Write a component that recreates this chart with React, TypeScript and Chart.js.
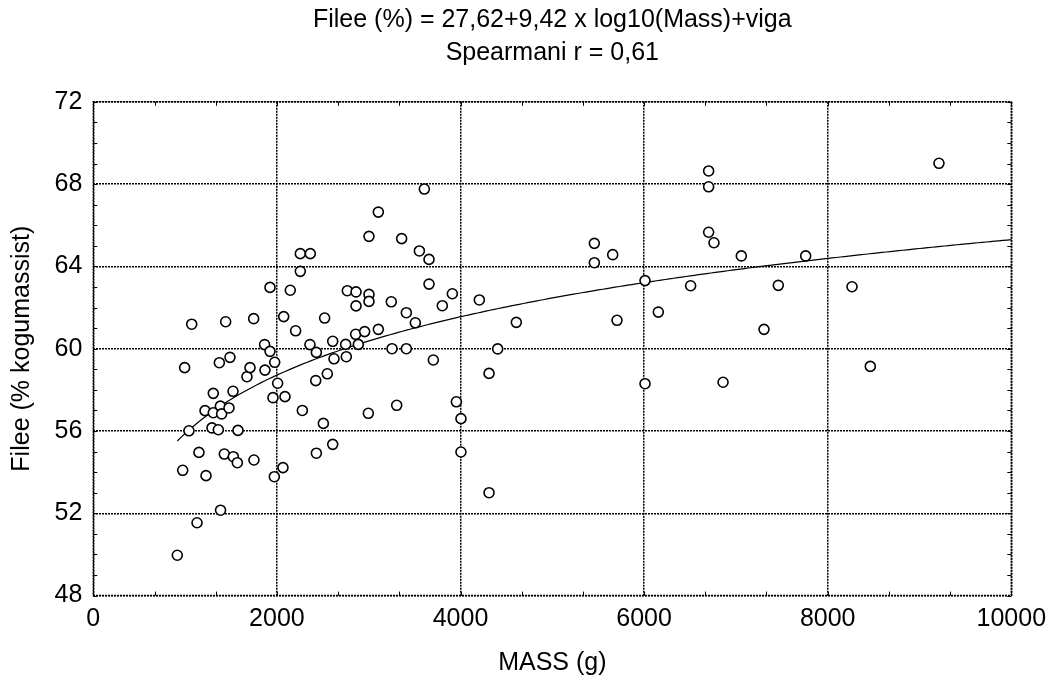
import React, { useEffect, useRef } from "react";
import { Chart, registerables } from "chart.js";

Chart.register(...registerables);

const massG: number[] = [
  915, 974, 995, 1042, 1072, 1130, 1151, 1217, 1228, 1293, 1307, 1307, 1362, 1373, 1384, 1386, 1398, 1427, 1442, 1478,
  1489, 1522, 1525, 1569, 1576, 1674, 1707, 1747, 1750, 1866, 1870, 1925, 1925, 1957, 1972, 1976, 2008, 2066, 2074, 2088,
  2146, 2204, 2255, 2255, 2277, 2360, 2364, 2423, 2430, 2430, 2506, 2520, 2549, 2608, 2608, 2622, 2749, 2756, 2767, 2858,
  2862, 2862, 2887, 2956, 2996, 3003, 3003, 3003, 3105, 3105, 3246, 3254, 3305, 3359, 3410, 3410, 3508, 3552, 3606, 3657,
  3657, 3704, 3802, 3911, 3955, 4005, 4005, 4205, 4311, 4311, 4405, 4608, 5458, 5458, 5658, 5705, 6010, 6010, 6155, 6507,
  6703, 6703, 6703, 6761, 6860, 7059, 7306, 7462, 7760, 8265, 8464, 9212,
];
const fileePct: number[] = [
  49.96, 54.09, 59.08, 56.01, 61.19, 51.54, 54.96, 56.99, 53.83, 56.15, 57.83, 56.89, 56.06, 59.32, 57.21, 52.15, 56.83, 54.88, 61.31, 57.12,
  59.58, 57.93, 54.75, 54.46, 56.03, 58.64, 59.08, 61.46, 54.59, 60.2, 58.96, 62.98, 59.87, 57.62, 53.78, 59.34, 58.32, 54.22, 61.56, 57.67,
  62.84, 60.87, 64.62, 63.76, 57.0, 60.2, 64.62, 58.45, 59.82, 54.92, 56.37, 61.49, 58.78, 60.36, 55.35, 59.51, 60.21, 59.61, 62.82, 60.7,
  62.76, 62.08, 60.21, 60.83, 56.86, 65.46, 62.64, 62.3, 66.64, 60.94, 62.28, 60.0, 57.25, 65.35, 61.75, 60.0, 61.26, 64.75, 67.76, 64.34,
  63.14, 59.45, 62.09, 62.67, 57.42, 56.6, 54.98, 62.37, 58.8, 53.0, 59.99, 61.28, 65.12, 64.18, 64.57, 61.38, 63.31, 58.3, 61.78, 63.06,
  68.64, 67.87, 65.66, 65.15, 58.37, 64.51, 60.94, 63.08, 64.51, 63.01, 59.14, 69.01,
];

// Fit from the title: Filee = 27.62 + 9.42 * log10(Mass)
const fitIntercept = 27.62;
const fitSlope = 9.42;
const fitStartMass = 915;
const fitEndMass = 10000;

const xTicks: number[] = [0, 2000, 4000, 6000, 8000, 10000];
const yTicks: number[] = [48, 52, 56, 60, 64, 68, 72];

const titleLines: string[] = [
  "Filee (%) = 27,62+9,42 x log10(Mass)+viga",
  "Spearmani r = 0,61",
];
const xTitle = "MASS (g)";
const yTitle = "Filee (% kogumassist)";

const FONT = "'Liberation Sans', Arial, sans-serif";
const FS = 25;

const boxPlugin = {
  id: "boxMinor",
  afterDraw(chart: any) {
    const { ctx, chartArea } = chart;
    const { left, right, top, bottom } = chartArea;
    const xs = chart.scales.x;
    const ys = chart.scales.y;
    ctx.save();
    ctx.strokeStyle = "#000";
    ctx.lineWidth = 1.5;
    ctx.setLineDash([2, 1]);
    ctx.strokeRect(left, top, right - left, bottom - top);
    ctx.setLineDash([]);
    ctx.lineWidth = 1;
    const len = 4;
    ctx.beginPath();
    for (let i = 0; i <= 15; i++) {
      const v = (i * 2000) / 3;
      const px = Math.round(xs.getPixelForValue(v)) + 0.5;
      ctx.moveTo(px, bottom);
      ctx.lineTo(px, bottom - len);
      ctx.moveTo(px, top);
      ctx.lineTo(px, top + len);
    }
    for (let v = 48; v <= 72; v++) {
      const py = Math.round(ys.getPixelForValue(v)) + 0.5;
      ctx.moveTo(left, py);
      ctx.lineTo(left + len, py);
      ctx.moveTo(right, py);
      ctx.lineTo(right - len, py);
    }
    ctx.stroke();
    ctx.restore();
  },
};

export default function App() {
  const ref = useRef<HTMLCanvasElement | null>(null);

  useEffect(() => {
    if (!ref.current) return;
    const points = massG.map((m, i) => ({ x: m, y: fileePct[i] }));
    const fit: { x: number; y: number }[] = [];
    const steps = 200;
    for (let i = 0; i <= steps; i++) {
      const m = fitStartMass + ((fitEndMass - fitStartMass) * i) / steps;
      fit.push({ x: m, y: fitIntercept + fitSlope * Math.log10(m) });
    }
    const chart = new Chart(ref.current, {
      type: "scatter",
      data: {
        datasets: [
          {
            type: "line",
            label: "fit",
            data: fit,
            borderColor: "#000",
            borderWidth: 1.2,
            pointRadius: 0,
            fill: false,
            tension: 0,
            order: 2,
          } as any,
          {
            label: "data",
            data: points,
            pointRadius: 5,
            pointBorderWidth: 1.6,
            pointBackgroundColor: "#fff",
            pointBorderColor: "#000",
            order: 1,
          },
        ],
      },
      options: {
        animation: false,
        responsive: true,
        maintainAspectRatio: false,
        layout: { padding: { left: 0, right: 40.7, top: 0, bottom: 0 } },
        plugins: {
          legend: { display: false },
          tooltip: { enabled: false },
          title: {
            display: true,
            fullSize: false,
            text: titleLines,
            color: "#000",
            font: { family: FONT, size: FS, weight: "normal", lineHeight: 1.3 },
            padding: { top: 4, bottom: 32.8 },
          },
        },
        scales: {
          x: {
            type: "linear",
            min: 0,
            max: 10000,
            afterBuildTicks: (s: any) => {
              s.ticks = xTicks.map((v) => ({ value: v }));
            },
            afterFit: (s: any) => {
              s.height = 80.4;
              s.paddingLeft = 0;
              s.paddingRight = 0;
            },
            ticks: {
              color: "#000",
              font: { family: FONT, size: FS },
              padding: 9,
              maxRotation: 0,
              callback: (v: any) => String(v),
            },
            grid: { color: "#000", lineWidth: 1.5, drawTicks: false },
            border: { display: false, dash: [2, 1] },
            title: {
              display: true,
              text: xTitle,
              color: "#000",
              font: { family: FONT, size: FS },
              padding: { top: 0, bottom: -2 },
            },
          },
          y: {
            type: "linear",
            min: 48,
            max: 72,
            afterBuildTicks: (s: any) => {
              s.ticks = yTicks.map((v) => ({ value: v }));
            },
            afterFit: (s: any) => {
              s.width = 93.3;
              s.paddingTop = 0;
              s.paddingBottom = 0;
            },
            ticks: {
              color: "#000",
              font: { family: FONT, size: FS },
              padding: 11,
              callback: (v: any) => String(v),
            },
            grid: { color: "#000", lineWidth: 1.5, drawTicks: false },
            border: { display: false, dash: [2, 1] },
            title: {
              display: true,
              text: yTitle,
              color: "#000",
              font: { family: FONT, size: FS },
              padding: { top: 7, bottom: 0 },
            },
          },
        },
      },
      plugins: [boxPlugin],
    });
    return () => chart.destroy();
  }, []);

  return (
    <div style={{ position: "fixed", left: 0, top: 0, width: 1052, height: 676, background: "#fff" }}>
      <canvas ref={ref} />
    </div>
  );
}
